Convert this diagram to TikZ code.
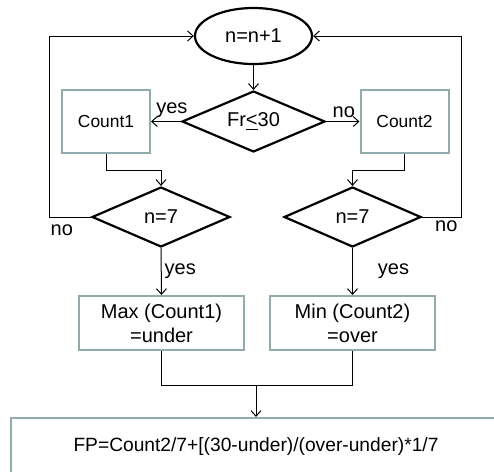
\documentclass[tikz,border=0pt]{standalone}
\usepackage{fontspec}
\setmainfont{Liberation Sans}
\usepackage{xcolor}
\usetikzlibrary{arrows.meta, shapes.geometric, positioning}
\tikzset{>={Straight Barb[length=2.8pt, width=5pt]}}
\definecolor{boxgray}{RGB}{145,172,172}
\tikzset{
  decision/.style={diamond, draw, line width=1.1pt, inner sep=0pt, aspect=2.3,
    font=\fontsize{10}{12}\selectfont},
  countbox/.style={rectangle, draw=boxgray, line width=1pt, inner sep=0pt,
    minimum width=44pt, minimum height=31.5pt, font=\fontsize{8.7}{10}\selectfont},
  resultbox/.style={rectangle, draw=boxgray, line width=1pt, inner sep=0pt,
    minimum width=82.5pt, minimum height=27pt, align=center,
    font=\fontsize{10}{12}\selectfont},
  flow/.style={line width=0.5pt},
  lbl/.style={font=\fontsize{10}{12}\selectfont, inner sep=1.5pt}
}
\begin{document}
\begin{tikzpicture}[x=0.5pt, y=-0.5pt]

                \useasboundingbox (0, 0) rectangle (494, 472);

                % start of the loop
                \node[ellipse, draw, line width=1.1pt, minimum width=58.5pt,
                  minimum height=28pt, inner sep=0pt, font=\fontsize{10}{12}\selectfont]
                  (step) at (253.5, 36) {n=n+1};

                \node[decision, minimum width=71.5pt, minimum height=30.5pt]
                  (test) at (253.5, 121.5) {Fr\underline{<}30};

                \node[countbox] (count1) at (106, 121.5) {Count1};
                \node[countbox] (count2) at (404.5, 121.5) {Count2};

                \node[decision, minimum width=69pt, minimum height=30pt]
                  (checkL) at (161, 217) {n=7};
                \node[decision, minimum width=68.5pt, minimum height=30pt]
                  (checkR) at (352.5, 217) {n=7};

                \node[resultbox] (under) at (161.5, 323) {Max (Count1)\\=under};
                \node[resultbox] (over) at (352.5, 323) {Min (Count2)\\=over};

                \node[rectangle, draw=boxgray, line width=1pt, minimum width=245pt,
                  minimum height=29pt, font=\fontsize{9.6}{12}\selectfont]
                  (fp) at (256, 447) {FP=Count2/7+[(30-under)/(over-under)*1/7};

                % connectors
                \draw[flow, ->] (step.south) -- (test.north);
                \draw[flow, ->] (test.west) -- node[lbl, above, pos=0.3] {yes} (count1.east);
                \draw[flow, ->] (test.east) -- node[lbl, above, pos=0.53] {no} (count2.west);

                \draw[flow, ->] (count1.south) -- ++(0, 16) -| (checkL.north);
                \draw[flow, ->] (count2.south) -- ++(0, 16) -| (checkR.north);

                \draw[flow, ->] (checkL.west) -- node[lbl, below, pos=0.71, yshift=-2pt] {no}
                  ++(-41, 0) |- (step.west);
                \draw[flow, ->] (checkR.east) -- node[lbl, below, pos=0.62] {no}
                  ++(39, 0) |- (step.east);

                \draw[flow, ->] (checkL.south) -- node[lbl, midway, right] {yes} (under.north);
                \draw[flow, ->] (checkR.south) -- node[lbl, midway, right, xshift=11pt] {yes}
                  (over.north);

                \draw[flow] (under.south) -- ++(0, 34) coordinate (join) -| (over.south);
                \draw[flow, ->] (join -| fp.north) -- (fp.north);

\end{tikzpicture}
\end{document}
